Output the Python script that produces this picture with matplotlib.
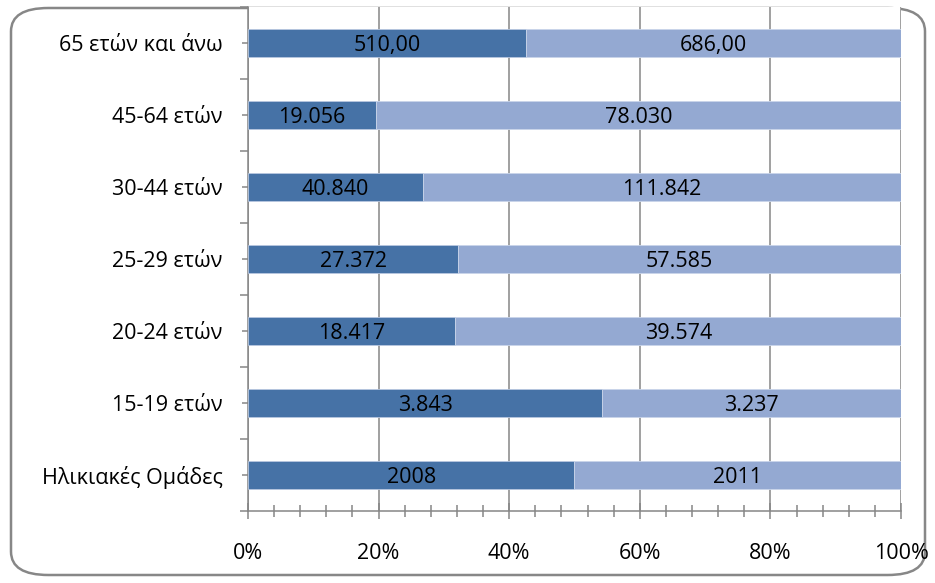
import matplotlib
matplotlib.use("Agg")
import matplotlib.pyplot as plt
from matplotlib.patches import FancyBboxPatch
from matplotlib.ticker import MultipleLocator, FixedLocator, PercentFormatter

categories = ["Ηλικιακές Ομάδες", "15-19 ετών", "20-24 ετών", "25-29 ετών",
              "30-44 ετών", "45-64 ετών", "65 ετών και άνω"]
values_a = [2008, 3843, 18417, 27372, 40840, 19056, 510.00]
values_b = [2011, 3237, 39574, 57585, 111842, 78030, 686.00]
labels_a = ["2008", "3.843", "18.417", "27.372", "40.840", "19.056", "510,00"]
labels_b = ["2011", "3.237", "39.574", "57.585", "111.842", "78.030", "686,00"]

plt.rcParams["font.family"] = ["Open Sans", "DejaVu Sans"]
grey = "#868686"
dark = "#4672A6"
light = "#94A9D2"
fs = 15.5

fig = plt.figure(figsize=(9.35, 5.83), dpi=100)
ax = fig.add_axes([248 / 935, 1 - 511 / 583, 653 / 935, 504 / 583])

share_a = [a / (a + b) * 100 for a, b in zip(values_a, values_b)]
share_b = [b / (a + b) * 100 for a, b in zip(values_a, values_b)]
pos = list(range(len(categories)))

ax.barh(pos, share_a, height=0.4, color=dark, edgecolor="#B8C7E0", linewidth=0.6, zorder=3)
ax.barh(pos, share_b, left=share_a, height=0.4, color=light, edgecolor="#C9D5EA", linewidth=0.6, zorder=3)

# value labels centred in each segment
for y, sa, sb, la, lb in zip(pos, share_a, share_b, labels_a, labels_b):
    ax.text(sa / 2, y, la, ha="center", va="center_baseline", fontsize=fs, zorder=4)
    ax.text(sa + sb / 2, y, lb, ha="center", va="center_baseline", fontsize=fs, zorder=4)

ax.set_xlim(0, 100)
ax.set_ylim(-0.5, len(categories) - 0.5)
ax.xaxis.set_major_locator(MultipleLocator(20))
ax.xaxis.set_minor_locator(MultipleLocator(4))
ax.xaxis.set_major_formatter(PercentFormatter(decimals=0))
ax.grid(axis="x", color=grey, linewidth=1.1, zorder=0)

ax.yaxis.set_major_locator(FixedLocator([i - 0.5 for i in range(len(categories) + 1)]))
ax.yaxis.set_minor_locator(FixedLocator(pos))
ax.set_yticklabels([])
ax.set_yticks(pos, categories, minor=True)

for side in ["top", "right"]:
    ax.spines[side].set_visible(False)
for side in ["left", "bottom"]:
    ax.spines[side].set_color(grey)
    ax.spines[side].set_linewidth(1.1)

ax.tick_params(axis="x", which="major", direction="inout", length=11.5, width=1.1, color=grey,
               labelsize=fs, pad=17)
ax.tick_params(axis="x", which="minor", direction="inout", length=8.5, width=1.1, color=grey)
ax.tick_params(axis="y", which="major", direction="out", length=5.5, width=1.1, color=grey)
ax.tick_params(axis="y", which="minor", direction="inout", length=8.5, width=1.1, color=grey,
               labelsize=fs, pad=14)

border = FancyBboxPatch((11 / 935, 8 / 583), 914 / 935, 567 / 583,
                        boxstyle="round,pad=0,rounding_size=0.04",
                        transform=fig.transFigure, facecolor="none",
                        edgecolor="#878787", linewidth=1.8, zorder=-1)
fig.patches.append(border)

fig.savefig("out.png", dpi=100)
